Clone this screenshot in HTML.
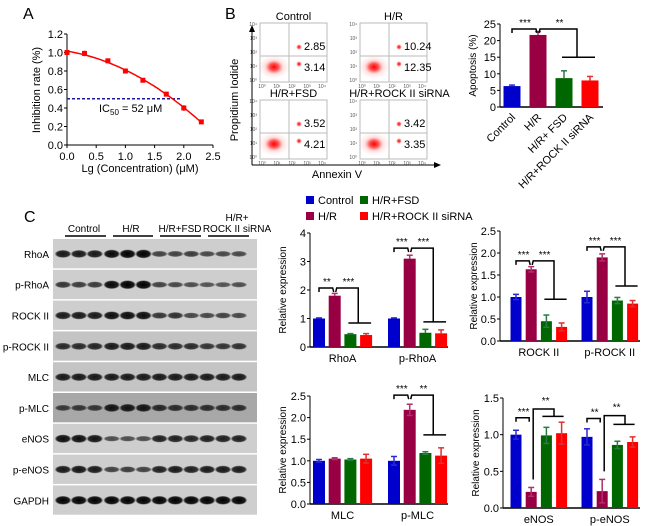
<!DOCTYPE html>
<html><head><meta charset="utf-8"><style>
body{margin:0;background:#fff}
svg{display:block;font-family:"Liberation Sans",Arial,sans-serif}
</style></head><body>
<svg id="fig" width="650" height="526" viewBox="0 0 650 526" xmlns="http://www.w3.org/2000/svg">
<defs>
<radialGradient id="blob"><stop offset="0" stop-color="#ff0000" stop-opacity="1"/><stop offset="0.5" stop-color="#ff2020" stop-opacity="0.7"/><stop offset="1" stop-color="#ff8080" stop-opacity="0"/></radialGradient>
<radialGradient id="band"><stop offset="0" stop-color="#000" stop-opacity="1"/><stop offset="0.75" stop-color="#111" stop-opacity="0.95"/><stop offset="1" stop-color="#444" stop-opacity="0"/></radialGradient>
</defs>
<g id="root"></g>
</svg>
<script>
// ---------- Panel A data ----------
const aX = [0, 0.3, 0.7, 1.0, 1.3, 1.7, 2.0, 2.3];
const aY = [1.0, 0.99, 0.91, 0.80, 0.70, 0.55, 0.40, 0.25];
const aErr = [0.03, 0.03, 0.02, 0.02, 0.02, 0.02, 0.03, 0.01];
const aXTicks = ["0.0","0.5","1.0","1.5","2.0","2.5"];
const aYTicks = ["0.0","0.2","0.4","0.6","0.8","1.0","1.2"];
// ---------- Panel B apoptosis ----------
const apoCats = ["Control","H/R","H/R+ FSD","H/R+ROCK II siRNA"];
const apoVals = [6.3, 21.7, 8.7, 8.0];
const apoErr = [0.3, 1.0, 2.2, 1.2];
const apoTicks = ["0","5","10","15","20","25"];
const flowUR = ["2.85","10.24","3.52","3.42"];
const flowLR = ["3.14","12.35","4.21","3.35"];
const flowTitles = ["Control","H/R","H/R+FSD","H/R+ROCK II siRNA"];
// ---------- Panel C data ----------
const seriesNames = ["Control","H/R","H/R+FSD","H/R+ROCK II siRNA"];
const rhoaVals = [1.0, 1.8, 0.45, 0.42];   const rhoaErr = [0.02, 0.08, 0.02, 0.05];
const prhoaVals = [1.0, 3.1, 0.5, 0.48];   const prhoaErr = [0.02, 0.12, 0.12, 0.12];
const rockVals = [1.0, 1.63, 0.45, 0.32];  const rockErr = [0.06, 0.06, 0.14, 0.09];
const prockVals = [1.0, 1.9, 0.92, 0.85];  const prockErr = [0.13, 0.08, 0.07, 0.07];
const mlcVals = [1.0, 1.05, 1.03, 1.05];   const mlcErr = [0.03, 0.02, 0.02, 0.1];
const pmlcVals = [1.0, 2.18, 1.18, 1.12];  const pmlcErr = [0.1, 0.13, 0.03, 0.18];
const enosVals = [1.0, 0.22, 0.99, 1.02];  const enosErr = [0.06, 0.06, 0.11, 0.15];
const penosVals = [0.97, 0.23, 0.86, 0.9]; const penosErr = [0.11, 0.16, 0.05, 0.07];
const blotRows = ["RhoA","p-RhoA","ROCK II","p-ROCK II","MLC","p-MLC","eNOS","p-eNOS","GAPDH"];
const blotIntensity = [
 [0.8,0.8,0.8,0.95,1,1,0.45,0.45,0.5,0.4,0.4,0.4],
 [0.55,0.5,0.5,0.95,1,1,0.45,0.4,0.35,0.3,0.3,0.35],
 [0.8,0.8,0.8,0.9,0.9,0.9,0.55,0.6,0.4,0.4,0.45,0.4],
 [0.65,0.65,0.7,0.8,0.8,0.8,0.65,0.65,0.65,0.55,0.55,0.6],
 [0.8,0.8,0.8,0.8,0.8,0.8,0.8,0.8,0.8,0.8,0.8,0.8],
 [0.45,0.5,0.5,0.85,0.85,0.85,0.65,0.6,0.6,0.6,0.6,0.6],
 [0.9,0.9,0.85,0.35,0.35,0.35,0.75,0.75,0.7,0.75,0.75,0.75],
 [0.8,0.85,0.8,0.45,0.5,0.45,0.75,0.8,0.75,0.8,0.8,0.8],
 [1,1,1,1,1,1,1,1,1,1,1,1]
];
const colors = ["#0000cc","#990044","#006600","#ff0000"];
const errColors = ["#2a2ad0","#b0306a","#2a7a4a","#e03030"];

const NS="http://www.w3.org/2000/svg";
const root=document.getElementById('root');
function el(tag,attrs,parent,text){const e=document.createElementNS(NS,tag);for(const k in attrs)e.setAttribute(k,attrs[k]);if(text!==undefined)e.textContent=text;(parent||root).appendChild(e);return e;}
function txt(x,y,s,size,anchor,parent,extra){const a={x:x,y:y,'font-size':size,'text-anchor':anchor||'start',fill:'#000'};if(extra)for(const k in extra)a[k]=extra[k];return el('text',a,parent,s);}

let t;
t=txt(23,19,"A",16,"start");
t=txt(225,19,"B",16,"start");
t=txt(24,222,"C",16,"start");

// ===== Panel A =====
(function(){
 const g=el('g',{});
 
 
 const x0=67,x1=213,y0=145,y1=34;
 const sx=v=>x0+(v/2.5)*(x1-x0), sy=v=>y0-(v/1.2)*(y0-y1);
 el('line',{x1:x0,y1:y0,x2:x0,y2:y1,stroke:'#000','stroke-width':1},g);
 el('line',{x1:x0,y1:y0,x2:x1,y2:y0,stroke:'#000','stroke-width':1},g);
 aYTicks.forEach((s,i)=>{const v=parseFloat(s);el('line',{x1:x0-3,y1:sy(v),x2:x0,y2:sy(v),stroke:'#000'},g);const l=txt(x0-4,sy(v)+4,s,11,'end',g);});
 aXTicks.forEach((s,i)=>{const v=parseFloat(s);el('line',{x1:sx(v),y1:y0,x2:sx(v),y2:y0+3,stroke:'#000'},g);const l=txt(sx(v),y0+15,s,11,'middle',g);});
 let l=txt(40,90,"Inhibition rate (%)",11,'middle',g,{transform:'rotate(-90 40 90)'});
 l=txt(140,172,"Lg (Concentration) (μM)",11,'middle',g);
 const dl=el('line',{x1:x0,y1:sy(0.5),x2:sx(1.95),y2:sy(0.5),stroke:'#1a1aa0','stroke-width':1.5,'stroke-dasharray':'3,2'},g);
 
 const ic=el('text',{x:99,y:112,'font-size':11,fill:'#000'},g);
 
 ic.innerHTML='IC<tspan font-size="8" dy="3">50</tspan><tspan dy="-3"> = 52 μM</tspan>';
 let n=aX.length,S=[0,0,0,0,0],T=[0,0,0];
 for(let i=0;i<n;i++){const x=aX[i];for(let k=0;k<5;k++)S[k]+=Math.pow(x,k);for(let k=0;k<3;k++)T[k]+=aY[i]*Math.pow(x,k);}
 const M=[[S[0],S[1],S[2],T[0]],[S[1],S[2],S[3],T[1]],[S[2],S[3],S[4],T[2]]];
 for(let i=0;i<3;i++){for(let j=i+1;j<3;j++){const f=M[j][i]/M[i][i];for(let k=i;k<4;k++)M[j][k]-=f*M[i][k];}}
 const c=[0,0,0];for(let i=2;i>=0;i--){let s=M[i][3];for(let k=i+1;k<3;k++)s-=M[i][k]*c[k];c[i]=s/M[i][i];}
 let d='';for(let i=0;i<=40;i++){const x=aX[0]+(aX[n-1]-aX[0])*i/40;const y=c[0]+c[1]*x+c[2]*x*x;d+=(i?'L':'M')+sx(x).toFixed(1)+','+sy(y).toFixed(1);}
 const p=el('path',{d:d,fill:'none',stroke:'#ff0000','stroke-width':1.5},g);
 
 aX.forEach((x,i)=>{
  el('line',{x1:sx(x),y1:sy(aY[i]+aErr[i]),x2:sx(x),y2:sy(aY[i]-aErr[i]),stroke:'#ff0000','stroke-width':1.5},g);
  const r=el('rect',{x:sx(x)-2.5,y:sy(aY[i])-2.5,width:5,height:5,fill:'#ff0000'},g);
  
 });
})();

// ===== Panel B flow plots =====
(function(){
 const g=el('g',{});
 
 
 const boxes=[[260,23],[360,23],[260,100],[360,100]];
 boxes.forEach((b,i)=>{
  const [bx,by]=b,w=67,h=59;
  const pg=el('g',{},g);
  
  
  el('rect',{x:bx,y:by,width:w,height:h,fill:'#fff',stroke:'#bbb','stroke-width':1},pg);
  el('line',{x1:bx+29,y1:by,x2:bx+29,y2:by+h,stroke:'#bbb'},pg);
  el('line',{x1:bx,y1:by+33,x2:bx+w,y2:by+33,stroke:'#bbb'},pg);
  el('ellipse',{cx:bx+14,cy:by+44,rx:9,ry:7,fill:'url(#blob)'},pg);
  el('ellipse',{cx:bx+14,cy:by+44,rx:16,ry:12,fill:'url(#blob)',opacity:0.25},pg);
  el('circle',{cx:bx+39,cy:by+24,r:3,fill:'url(#blob)'},pg);
  el('circle',{cx:bx+39,cy:by+41,r:3,fill:'url(#blob)'},pg);
  let l=txt(bx+44,by+27,flowUR[i],11,'start',pg);
  l=txt(bx+44,by+48,flowLR[i],11,'start',pg);
  l=txt(bx+w/2+(i==3?6:0),by-3,flowTitles[i],11,'middle',pg);
  ['10⁰','10¹','10²','10³','10⁴'].forEach((s,k)=>{txt(bx+2+k*15,by+h+6,s,5,'middle',pg,{fill:'#555'});txt(bx-3,by+h-k*14,s,5,'end',pg,{fill:'#555'});});
 });
 el('line',{x1:252,y1:165,x2:252,y2:28,stroke:'#000'},g);
 el('path',{d:'M249,32 L252,25 L255,32 Z',fill:'#000'},g);
 el('line',{x1:252,y1:165,x2:438,y2:165,stroke:'#000'},g);
 el('path',{d:'M434,162 L441,165 L434,168 Z',fill:'#000'},g);
 let l=txt(238,100,"Propidium Iodide",11,'middle',g,{transform:'rotate(-90 238 100)'});
 l=txt(337,178,"Annexin V",11,'middle',g);
})();

// ===== generic bar chart =====
function barChart(cfg){
 const g=el('g',{});
 
 
 const sy=v=>cfg.y0-(v/cfg.max)*(cfg.y0-cfg.yTop);
 el('line',{x1:cfg.ax,y1:cfg.y0,x2:cfg.ax,y2:cfg.yTop,stroke:'#000','stroke-width':1},g);
 el('line',{x1:cfg.ax,y1:cfg.y0,x2:cfg.axEnd,y2:cfg.y0,stroke:'#000','stroke-width':1.5},g);
 cfg.ticks.forEach(s=>{const v=parseFloat(s);el('line',{x1:cfg.ax-3,y1:sy(v),x2:cfg.ax,y2:sy(v),stroke:'#000'},g);const l=txt(cfg.ax-4,sy(v)+4,s,11,'end',g);});
 let l=txt(cfg.titleX,(cfg.y0+cfg.yTop)/2,cfg.title,10,'middle',g,{transform:`rotate(-90 ${cfg.titleX} ${(cfg.y0+cfg.yTop)/2})`});
 
 cfg.groups.forEach((grp,gi)=>{
  const cx=k=>grp.start+k*cfg.step;
  grp.vals.forEach((v,k)=>{
   const x=cx(k),y=sy(v),ye=sy(v+grp.err[k]);
   const r=el('rect',{x:x-cfg.bw/2,y:y,width:cfg.bw,height:cfg.y0-y,fill:colors[k]},g);
   
   
   el('line',{x1:x,y1:y,x2:x,y2:ye,stroke:errColors[k],'stroke-width':1.5},g);
   el('line',{x1:x-3,y1:ye,x2:x+3,y2:ye,stroke:errColors[k],'stroke-width':1.5},g);
   if(cfg.errBelow){const yb=sy(Math.max(0,v-grp.err[k]));el('line',{x1:x,y1:y,x2:x,y2:yb,stroke:errColors[k],'stroke-width':1.5},g);el('line',{x1:x-3,y1:yb,x2:x+3,y2:yb,stroke:errColors[k],'stroke-width':1.5},g);}
  });
  if(grp.label){const tl=txt((cx(0)+cx(3))/2,cfg.y0+15,grp.label,11,'middle',g);}
  if(grp.stars){
   const yb=sy(grp.b1),yl=sy(grp.b2);
   const x0=cx(0),x1=cx(1),xm=(cx(2)+cx(3))/2;
   if(grp.style==='up'){
    el('path',{d:`M${x0},${yb+4} L${x0},${yb} L${x1-2},${yb} L${x1-2},${yb+4}`,fill:'none',stroke:'#000','stroke-width':1.5},g);
    const yt=sy(grp.b3);
    el('path',{d:`M${x1+2},${sy(grp.vals[1]+grp.err[1])-8} L${x1+2},${yt} L${xm},${yt} L${xm},${yl} M${cx(2)-4},${yl} L${cx(3)+2},${yl}`,fill:'none',stroke:'#000','stroke-width':1.5},g);
    txt((x0+x1)/2,yb-3,grp.stars[0],10,'middle',g);
    txt((x1+xm)/2+3,yt-5,grp.stars[1],10,'middle',g);
   } else {
    el('path',{d:`M${x0},${yb+4} L${x0},${yb} L${x1-2},${yb} L${x1-1},${yb+4} M${x1+1},${yb+4} L${x1+2},${yb} L${xm},${yb} L${xm},${yl} M${cx(2)-2},${yl} L${cx(3)+5},${yl}`,fill:'none',stroke:'#000','stroke-width':1.5},g);
    txt((x0+x1)/2,yb-3,grp.stars[0],10,'middle',g);
    txt((x1+xm)/2+2,yb-3,grp.stars[1],10,'middle',g);
   }
  }
 });
 return g;
}

barChart({name:'apoptosis-chart',ax:500,axEnd:603,y0:107,yTop:24,max:25,ticks:apoTicks,title:'Apoptosis (%)',titleX:476,bw:17,step:26,
 groups:[{start:512,vals:apoVals,err:apoErr,label:'',stars:['***','**'],b1:23.5,b2:15}]});
apoCats.forEach((c,i)=>{const x=512+i*26+4,y=118;const l=txt(x,y,c,11,'end',null,{transform:`rotate(-45 ${x} ${y})`});});

(function(){
 const g=el('g',{});
 
 
 const pos=[[306,202],[306,218],[360,202],[360,218]];
 seriesNames.forEach((s,i)=>{
  const e=el('g',{},g);
  
  
  el('rect',{x:pos[i][0],y:pos[i][1]-6,width:8,height:8,fill:colors[i]},e);
  txt(pos[i][0]+12,pos[i][1]+2,s,11,'start',e);
 });
})();

barChart({name:'rhoa-chart',ax:310,axEnd:448,y0:347,yTop:233,max:4,ticks:['0','1','2','3','4'],title:'Relative expression',titleX:286,bw:12,step:15.7,
 groups:[{start:319,vals:rhoaVals,err:rhoaErr,label:'RhoA',stars:['**','***'],b1:2.07,b2:0.84},
         {start:394,vals:prhoaVals,err:prhoaErr,label:'p-RhoA',stars:['***','***'],b1:3.47,b2:0.88}]});
barChart({name:'rock-chart',ax:500,axEnd:640,y0:341,yTop:231,max:2.5,ticks:['0.0','0.5','1.0','1.5','2.0','2.5'],title:'Relative expression',titleX:477,bw:11,step:15.2,errBelow:true,
 groups:[{start:516,vals:rockVals,err:rockErr,label:'ROCK II',stars:['***','***'],b1:1.82,b2:0.95},
         {start:587,vals:prockVals,err:prockErr,label:'p-ROCK II',stars:['***','***'],b1:2.14,b2:1.25}]});
barChart({name:'mlc-chart',ax:310,axEnd:448,y0:504,yTop:396,max:2.5,ticks:['0.0','0.5','1.0','1.5','2.0','2.5'],title:'Relative expression',titleX:286,bw:12,step:15.7,errBelow:true,
 groups:[{start:319,vals:mlcVals,err:mlcErr,label:'MLC'},
         {start:394,vals:pmlcVals,err:pmlcErr,label:'p-MLC',stars:['***','**'],b1:2.52,b2:1.6}]});
barChart({name:'enos-chart',ax:503,axEnd:640,y0:508,yTop:398,max:1.5,ticks:['0.0','0.5','1.0','1.5'],title:'Relative expression',titleX:479,bw:11,step:15.2,errBelow:true,
 groups:[{start:516,vals:enosVals,err:enosErr,label:'eNOS',stars:['***','**'],b1:1.23,b2:1.25,b3:1.35,style:'up'},
         {start:587,vals:penosVals,err:penosErr,label:'p-eNOS',stars:['**','**'],b1:1.22,b2:1.14,b3:1.26,style:'up'}]});

(function(){
 const g=el('g',{});
 
 
 const bx=53,bw=204,top=239,rh=30.8;
 const hdr=[["Control",84,65,106],["H/R",131,113,153],["H/R+FSD",180,160,201],["ROCK II siRNA",237,208,249]];
 hdr.forEach(h=>{const l=txt(h[1],232,h[0],10,'middle',g);el('line',{x1:h[2],y1:236,x2:h[3],y2:236,stroke:'#000','stroke-width':1.5},g);});
 txt(237,221,"H/R+",10,'middle',g);
 blotRows.forEach((name,r)=>{
  const y=top+r*rh;
  const row=el('g',{},g);
  
  
  const shade=(r==5)?'#a8a8a8':(r==4||r==3)?'#c4c4c4':'#cecece';
  el('rect',{x:bx,y:y,width:bw,height:rh-1.5,fill:shade},row);
  blotIntensity[r].forEach((v,k)=>{
   const cx=bx+10+k*15.9+(k>=3?1:0);
   el('ellipse',{cx:cx,cy:y+rh/2-0.5,rx:8.5,ry:2+2.6*v,fill:'url(#band)',opacity:0.45+0.55*v},row);
  });
  const l=txt(49,y+rh/2+3.5,name,10,'end',row);
 });
})();
</script>
</body></html>
